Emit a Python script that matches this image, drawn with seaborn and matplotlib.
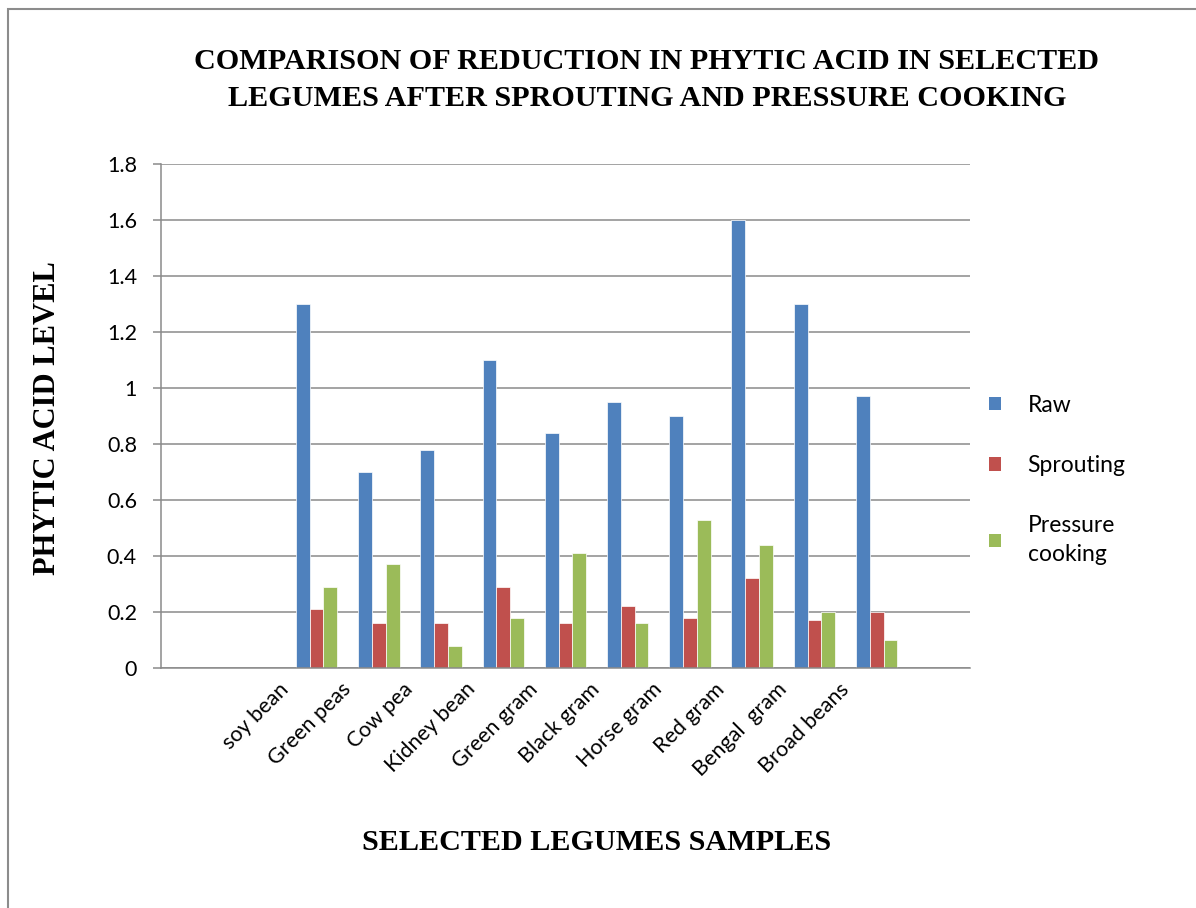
import matplotlib
matplotlib.use("Agg")
import matplotlib.pyplot as plt
import matplotlib.transforms as mtransforms
from matplotlib.patches import Rectangle, Patch
import pandas as pd
import seaborn as sns

# Legume samples and phytic acid levels per treatment
legumes = ["soy bean", "Green peas", "Cow pea", "Kidney bean", "Green gram",
           "Black gram", "Horse gram", "Red gram", "Bengal  gram", "Broad beans"]
raw = [1.3, 0.7, 0.78, 1.1, 0.84, 0.95, 0.9, 1.6, 1.3, 0.97]
sprouting = [0.21, 0.16, 0.16, 0.29, 0.16, 0.22, 0.18, 0.32, 0.17, 0.2]
pressure_cooking = [0.29, 0.37, 0.08, 0.18, 0.41, 0.16, 0.53, 0.44, 0.2, 0.1]
series_names = ["Raw", "Sprouting", "Pressure cooking"]
legend_labels = ["Raw", "Sprouting", "Pressure\ncooking"]
y_ticks = [0, 0.2, 0.4, 0.6, 0.8, 1.0, 1.2, 1.4, 1.6, 1.8]
colors = ["#4F81BD", "#C0504D", "#9BBB59"]

df = pd.DataFrame({
    "legume": legumes * 3,
    "treatment": [s for s in series_names for _ in legumes],
    "level": raw + sprouting + pressure_cooking,
})

sns.set_theme(style="white")
plt.rcParams["font.family"] = ["Lato", "DejaVu Sans"]
plt.rcParams["text.color"] = "black"
plt.rcParams["axes.labelcolor"] = "black"

W, H, DPI = 1196, 908, 100
fig = plt.figure(figsize=(W / DPI, H / DPI), dpi=DPI)
ax = fig.add_axes([161 / W, 1 - 668 / H, (970 - 161) / W, (668 - 164) / H])

sns.barplot(data=df, x="legume", y="level", hue="treatment", order=legumes,
            hue_order=series_names, palette=colors, width=0.667, saturation=1,
            edgecolor="white", linewidth=0.5, ax=ax, legend=False)

# category axis with two empty slots on the left and one on the right
ax.set_xlim(-2.5, len(legumes) + 0.5)
ax.set_ylim(0, 1.8)
ax.set_yticks(y_ticks)
ax.set_yticklabels([f"{v:g}" for v in y_ticks])
ax.set_xlabel("")
ax.set_ylabel("")

grid_c = "#8a8a8a"
ax.set_axisbelow(True)
ax.yaxis.grid(True, color=grid_c, linewidth=1.1)
ax.xaxis.grid(False)
for side in ["top", "right"]:
    ax.spines[side].set_visible(False)
for side in ["left", "bottom"]:
    ax.spines[side].set_color(grid_c)
    ax.spines[side].set_linewidth(1.1)

ax.tick_params(axis="y", which="both", direction="out", length=5.8, width=1.1,
               color=grid_c, pad=11.5, labelsize=15.5, labelcolor="black", left=True)
ax.tick_params(axis="x", length=0, pad=0, labelsize=15.5, labelcolor="black")

ax.set_xticks(range(len(legumes)))
ax.set_xticklabels(legumes, rotation=45, ha="right", va="center",
                   rotation_mode="anchor")
shift = mtransforms.ScaledTranslation(-31 / DPI, -18 / DPI, fig.dpi_scale_trans)
for lab in ax.get_xticklabels():
    lab.set_transform(lab.get_transform() + shift)

# legend
handles = [Patch(facecolor=c, edgecolor="none") for c in colors]
leg = fig.legend(handles, legend_labels, loc="center left",
                 bbox_to_anchor=(968 / W, 1 - 480 / H), frameon=False,
                 fontsize=16.5, handlelength=0.55, handleheight=0.55,
                 handletextpad=1.15, labelspacing=1.71)
for t in leg.get_texts():
    t.set_linespacing(1.5)

serif = ["Liberation Serif", "DejaVu Serif"]
fig.text(647 / W, 1 - 80 / H,
         "COMPARISON OF REDUCTION IN PHYTIC ACID IN SELECTED\n"
         "LEGUMES AFTER SPROUTING AND PRESSURE COOKING",
         ha="center", va="center", fontsize=21.7, fontweight="bold",
         family=serif, linespacing=1.48)
fig.text(597 / W, 1 - 843 / H, "SELECTED LEGUMES SAMPLES", ha="center",
         va="center", fontsize=21.7, fontweight="bold", family=serif)
fig.text(48 / W, 1 - 418 / H, "PHYTIC ACID LEVEL", ha="center", va="center",
         rotation=90, fontsize=22, fontweight="bold", family=serif)

# chart area border
fig.add_artist(Rectangle((8 / W, -0.1), 1.2, 1 - 9 / H + 0.1,
                         transform=fig.transFigure, fill=False,
                         edgecolor="#8c8c8c", linewidth=1.5))

fig.savefig("out.png", dpi=DPI)
